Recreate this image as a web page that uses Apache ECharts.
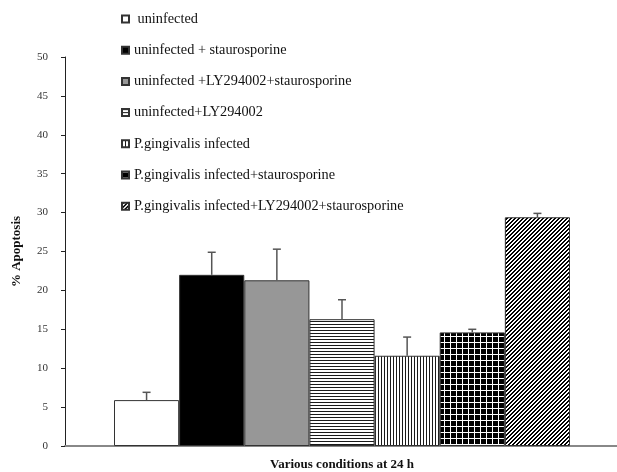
<!DOCTYPE html>
<html>
<head>
<meta charset="utf-8">
<script src="https://cdn.jsdelivr.net/npm/echarts@6/dist/echarts.min.js"></script>
<style>
  html, body { margin: 0; padding: 0; background: #fff; }
  #chart { width: 617px; height: 472px; }
</style>
</head>
<body>
<div id="chart"></div>
<script>
// Experimental conditions (one bar each), in drawing order
const conditions = [
  'uninfected',
  'uninfected + staurosporine',
  'uninfected +LY294002+staurosporine',
  'uninfected+LY294002',
  'P.gingivalis infected',
  'P.gingivalis infected+staurosporine',
  'P.gingivalis infected+LY294002+staurosporine'
];
// Mean % apoptosis and the upper error (SD) for each condition
const apoptosis = [5.9, 22.0, 21.3, 16.3, 11.6, 14.6, 29.4];
const errors = [1.0, 2.9, 4.0, 2.5, 2.4, 0.4, 0.5];
// Value axis ticks
const yMin = 0, yMax = 50, yStep = 5;

const serif = 'Liberation Serif';

// Small tiled canvases used as hatch fills
function tile(w, h, paint) {
  const c = document.createElement('canvas');
  c.width = w; c.height = h;
  const g = c.getContext('2d');
  paint(g, w, h);
  return { image: c, repeat: 'repeat' };
}
function pixelTile(w, h, isDark, dark, light) {
  return tile(w, h, (g) => {
    for (let y = 0; y < h; y++) {
      for (let x = 0; x < w; x++) {
        g.fillStyle = isDark(x, y) ? dark : light;
        g.fillRect(x, y, 1, 1);
      }
    }
  });
}
const fills = [
  '#ffffff',
  '#000000',
  '#979797',
  pixelTile(3, 3, (x, y) => y === 0, '#1a1a1a', '#ffffff'),           // horizontal lines
  pixelTile(3, 3, (x, y) => x === 0, '#1a1a1a', '#ffffff'),           // vertical lines
  pixelTile(6, 6, (x, y) => x === 0 || y === 0, '#ffffff', '#000000'), // white grid on black
  pixelTile(4, 4, (x, y) => ((x + y) % 4) < 2, '#000000', '#ffffff')   // diagonal "/" stripes
];

const barSeries = conditions.map((name, i) => ({
  name: name,
  type: 'bar',
  xAxisIndex: 0,
  yAxisIndex: 0,
  barGap: '-100%',
  barCategoryGap: 0,
  data: conditions.map((_, j) => (j === i ? apoptosis[i] : '-')),
  itemStyle: { color: fills[i], borderColor: '#333', borderWidth: 1 },
  emphasis: { disabled: true },
  silent: true
}));

const errorSeries = {
  type: 'custom',
  xAxisIndex: 0,
  yAxisIndex: 0,
  z: 5,
  silent: true,
  data: conditions.map((_, i) => [i, apoptosis[i], apoptosis[i] + errors[i]]),
  renderItem: function (params, api) {
    const base = api.coord([api.value(0), api.value(1)]);
    const top = api.coord([api.value(0), api.value(2)]);
    const style = { stroke: '#555', lineWidth: 1.5 };
    return {
      type: 'group',
      children: [
        { type: 'line', shape: { x1: base[0], y1: base[1], x2: top[0], y2: top[1] }, style: style },
        { type: 'line', shape: { x1: top[0] - 4, y1: top[1], x2: top[0] + 4, y2: top[1] }, style: style }
      ]
    };
  }
};

const chart = echarts.init(document.getElementById('chart'), null, { renderer: 'canvas' });
chart.setOption({
  animation: false,
  backgroundColor: '#ffffff',
  legend: {
    data: conditions,
    orient: 'vertical',
    left: 121,
    top: 12,
    padding: 0,
    itemWidth: 7,
    itemHeight: 7,
    itemGap: 17.2,
    icon: 'rect',
    selectedMode: false,
    formatter: (n) => (n === conditions[0] ? ' ' + n : n),
    textStyle: { fontFamily: serif, fontSize: 14.3, color: '#111', lineHeight: 14 }
  },
  grid: [
    { left: 114, right: 47, top: 57, bottom: 26, outerBoundsMode: 'none' },
    { left: 65, right: -5, top: 57, bottom: 26, outerBoundsMode: 'none' }
  ],
  xAxis: [
    {
      gridIndex: 0,
      type: 'category',
      data: conditions,
      axisLine: { show: false },
      axisTick: { show: false },
      axisLabel: { show: false },
      name: 'Various conditions at 24 h',
      nameLocation: 'middle',
      nameGap: 12,
      nameTextStyle: { fontFamily: serif, fontSize: 13, fontWeight: 'bold', color: '#111' }
    },
    {
      gridIndex: 1,
      type: 'value',
      min: 0,
      max: 1,
      axisLine: { show: true, lineStyle: { color: '#888', width: 2 } },
      axisTick: { show: false },
      axisLabel: { show: false },
      splitLine: { show: false }
    }
  ],
  yAxis: [
    {
      gridIndex: 0,
      type: 'value',
      min: yMin,
      max: yMax,
      interval: yStep,
      offset: 49,
      axisLine: { show: true, lineStyle: { color: '#222', width: 1 } },
      axisTick: { show: true, length: 4, lineStyle: { color: '#222' } },
      axisLabel: { margin: 17, fontFamily: serif, fontSize: 11, color: '#333' },
      splitLine: { show: false },
      name: '% Apoptosis',
      nameLocation: 'middle',
      nameGap: 42,
      nameTextStyle: { fontFamily: serif, fontSize: 13, fontWeight: 'bold', color: '#111' }
    },
    { gridIndex: 1, type: 'value', show: false, min: 0, max: 1 }
  ],
  series: barSeries.concat([errorSeries])
});
</script>
</body>
</html>
